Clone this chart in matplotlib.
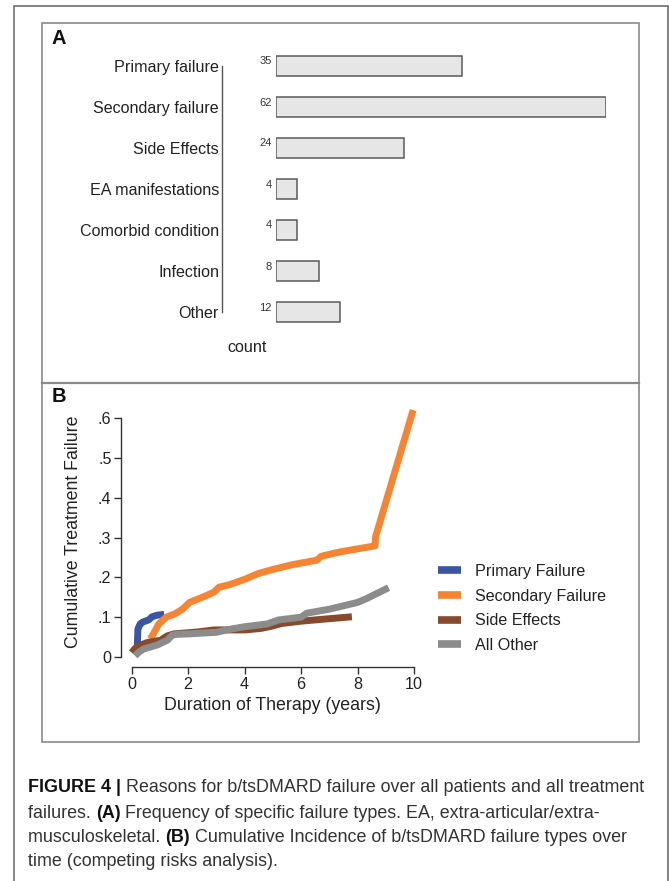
import matplotlib
matplotlib.use("Agg")
import matplotlib.pyplot as plt
from matplotlib.patches import Rectangle
from matplotlib.lines import Line2D

# ---------------- data ----------------
categories = ["Primary failure", "Secondary failure", "Side Effects",
              "EA manifestations", "Comorbid condition", "Infection", "Other"]
counts = [35, 62, 24, 4, 4, 8, 12]

series_names = ["Primary Failure", "Secondary Failure", "Side Effects", "All Other"]

primary_x = [0.18, 0.2, 0.22, 0.3, 0.4, 0.6, 0.72, 0.9, 1.15]
primary_y = [0.01, 0.03, 0.07, 0.083, 0.088, 0.093, 0.101, 0.105, 0.107]

secondary_x = [0.66, 0.8, 0.96, 1.22, 1.52, 1.8, 2.05, 2.64, 2.92, 3.09, 3.48,
               4.04, 4.46, 5.01, 5.71, 6.55, 6.72, 7.39, 8.62, 8.64, 9.97]
secondary_y = [0.045, 0.062, 0.083, 0.100, 0.108, 0.120, 0.137, 0.154, 0.163,
               0.175, 0.182, 0.196, 0.209, 0.220, 0.232, 0.243, 0.253, 0.264,
               0.279, 0.302, 0.620]

side_x = [0.0, 0.1, 0.24, 0.54, 1.02, 1.26, 1.5, 2.36, 2.92, 4.04, 4.6, 5.0,
          5.3, 6.0, 6.97, 7.8]
side_y = [0.011, 0.02, 0.028, 0.036, 0.042, 0.053, 0.058, 0.063, 0.068, 0.068,
          0.072, 0.078, 0.084, 0.09, 0.096, 0.101]

other_x = [0.12, 0.25, 0.42, 0.9, 1.26, 1.44, 1.62, 2.0, 3.0, 3.5, 4.0, 4.8,
           5.2, 6.0, 6.2, 7.0, 8.0, 8.3, 9.1]
other_y = [0.003, 0.012, 0.02, 0.03, 0.042, 0.055, 0.057, 0.058, 0.062, 0.07,
           0.076, 0.083, 0.093, 0.1, 0.11, 0.12, 0.137, 0.146, 0.174]

series_x = [primary_x, secondary_x, side_x, other_x]
series_y = [primary_y, secondary_y, side_y, other_y]
series_colors = ["#3b55a5", "#f58532", "#884a2c", "#8c8c8c"]

y_ticks = [0, 0.1, 0.2, 0.3, 0.4, 0.5, 0.6]
y_ticklabels = ["0", ".1", ".2", ".3", ".4", ".5", ".6"]
x_ticks = [0, 2, 4, 6, 8, 10]

caption_lines = [
    [("FIGURE 4 | ", "bold"), ("Reasons for b/tsDMARD failure over all patients and all treatment", "normal")],
    [("failures. ", "normal"), ("(A)", "bold"), (" Frequency of specific failure types. EA, extra-articular/extra-", "normal")],
    [("musculoskeletal. ", "normal"), ("(B)", "bold"), (" Cumulative Incidence of b/tsDMARD failure types over", "normal")],
    [("time (competing risks analysis).", "normal")],
]

# ---------------- figure ----------------
W, H = 669, 881
DPI = 100
PT = 72 / DPI  # points per pixel
plt.rcParams['font.family'] = ['Liberation Sans', 'DejaVu Sans']
fig = plt.figure(figsize=(W / DPI, H / DPI), dpi=DPI)


def fx(px):
    return px / W


def fy(py):
    return 1 - py / H


# frames
fig.add_artist(Rectangle((fx(14), fy(890)), fx(668) - fx(14), fy(6) - fy(890),
                         transform=fig.transFigure, fill=False,
                         edgecolor="#6e6e6e", lw=1.2))
fig.add_artist(Rectangle((fx(42), fy(742)), fx(639) - fx(42), fy(23) - fy(742),
                         transform=fig.transFigure, fill=False,
                         edgecolor="#8a8a8a", lw=1.2))
fig.add_artist(Line2D([fx(42), fx(639)], [fy(383), fy(383)],
                      transform=fig.transFigure, color="#8a8a8a", lw=1.6))

fig.text(fx(52), fy(38), "A", fontsize=14.5, fontweight="bold", va="center", ha="left", color="#111")
fig.text(fx(52), fy(397), "B", fontsize=14.5, fontweight="bold", va="center", ha="left", color="#111")

# ---------------- panel A ----------------
px_per_count = (606 - 276) / 62
axA = fig.add_axes([fx(276), fy(332.5), 62 * px_per_count / W, (332.5 - 45.5) / H])
ypos = list(range(len(categories)))
axA.barh(ypos, counts, height=0.49, color="#e6e6e6", edgecolor="#5a5a5a", lw=1.1)
axA.set_xlim(0, 62)
axA.set_ylim(6.5, -0.5)
axA.set_yticks(ypos)
axA.set_yticklabels(categories)
axA.tick_params(axis="y", length=0, pad=3 * PT, labelsize=11.6, labelcolor="#222")
axA.set_xticks([])
for s in ["top", "right", "bottom"]:
    axA.spines[s].set_visible(False)
axA.spines["left"].set_position(("outward", 54 * PT))
axA.spines["left"].set_bounds(0, 6)
axA.spines["left"].set_color("#555")
axA.spines["left"].set_linewidth(1.0)
axA.patch.set_visible(False)
for i, c in enumerate(counts):
    axA.annotate(str(c), xy=(0, i), xytext=(-4.5 * PT, 4.5 * PT), textcoords="offset points",
                 ha="right", va="center", fontsize=8, color="#333")
fig.text(fx(247), fy(347), "count", fontsize=11.6, ha="center", va="center", color="#222")

# ---------------- panel B ----------------
x0px, x10px = 131.7, 414.0
y0px, y6px = 657.0, 418.0
axB = fig.add_axes([fx(x0px), fy(y0px), (x10px - x0px) / W, (y0px - y6px) / H])
axB.set_xlim(0, 10)
axB.set_ylim(0, 0.6)
axB.patch.set_visible(False)
for s in ["top", "right"]:
    axB.spines[s].set_visible(False)
axB.spines["left"].set_position(("outward", 10.5 * PT))
axB.spines["bottom"].set_position(("outward", 10 * PT))
for s in ["left", "bottom"]:
    axB.spines[s].set_color("#333")
    axB.spines[s].set_linewidth(1.0)
axB.set_yticks(y_ticks)
axB.set_yticklabels(y_ticklabels)
axB.set_xticks(x_ticks)
axB.tick_params(axis="both", direction="out", length=5, width=1.0, color="#333",
                labelsize=11.6, labelcolor="#222", pad=2)

for xs, ys, col, name in zip(series_x, series_y, series_colors, series_names):
    axB.plot(xs, ys, color=col, lw=5, label=name, clip_on=False,
             solid_capstyle="butt", solid_joinstyle="round")

axB.set_xlabel("Duration of Therapy (years)", fontsize=12.8, color="#222")
axB.xaxis.set_label_coords(0.5, (y0px - 705) / (y0px - y6px))
axB.xaxis.label.set_va("center")
axB.set_ylabel("Cumulative Treatment Failure", fontsize=12.8, color="#222")
axB.yaxis.set_label_coords((73 - x0px) / (x10px - x0px), (y0px - 532) / (y0px - y6px))
axB.yaxis.label.set_va("center")

leg = axB.legend(loc="center left", bbox_to_anchor=(fx(438), fy(608.5)),
                 bbox_transform=fig.transFigure, frameon=False, fontsize=11.6,
                 handlelength=1.45, handletextpad=0.85, labelspacing=0.6,
                 borderpad=0, borderaxespad=0)
for t in leg.get_texts():
    t.set_color("#222")
for h in leg.legend_handles:
    h.set_linewidth(5.5)

# ---------------- caption ----------------
renderer = fig.canvas.get_renderer()
line_y = [787, 813, 838, 862]
cap_font = ['Liberation Sans', 'DejaVu Sans']
for runs, yy in zip(caption_lines, line_y):
    xcur = 28.0
    for txt, wt in runs:
        t = fig.text(fx(xcur), fy(yy), txt, fontsize=12.9, fontweight=wt,
                     family=cap_font, color="#111" if wt == "bold" else "#333",
                     ha="left", va="center")
        bb = t.get_window_extent(renderer=renderer)
        xcur += bb.width

fig.savefig("out.png", dpi=DPI)
